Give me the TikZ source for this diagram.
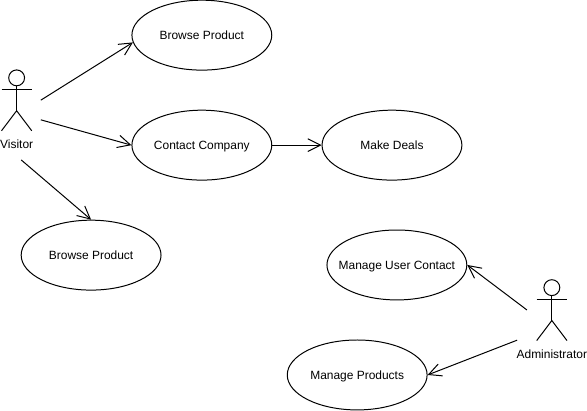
\documentclass[tikz,border=0pt]{standalone}
\usepackage{fontspec}
\setmainfont{Liberation Sans}
\usetikzlibrary{arrows.meta,shapes.geometric}
\tikzset{
  usecase/.style={draw, ellipse, line width=0.75pt, minimum width=3.7cm, minimum height=1.85cm, inner ysep=0pt, inner xsep=-0.6cm, text height=6.5pt, text depth=0pt, font=\fontsize{9pt}{11pt}\selectfont},
  actorname/.style={inner sep=0pt, font=\fontsize{9pt}{11pt}\selectfont},
  actorhead/.style={draw, circle, line width=0.75pt, minimum size=0.42cm, inner sep=0pt},
  link/.style={line width=0.75pt, -{Straight Barb[length=9.5pt,width=9.5pt,line width=0.75pt]}},
  limb/.style={line width=0.75pt}
}
\begin{document}
\begin{tikzpicture}
  \useasboundingbox (0,0) rectangle (15.53,10.87);

  % use cases
  \node[usecase] (browsetop) at (5.34,9.94) {Browse Product};
  \node[usecase] (contact) at (5.34,7.03) {Contact Company};
  \node[usecase] (deals) at (10.37,7.03) {Make Deals};
  \node[usecase] (browselow) at (2.41,4.12) {Browse Product};
  \node[usecase] (usercontact) at (10.50,3.86) {Manage User Contact};
  \node[usecase] (products) at (9.45,0.95) {Manage Products};

  % visitor actor
  \node[actorhead] (visitorhead) at (0.44,8.81) {};
  \coordinate (visitorhip) at (0.44,7.94);
  \draw[limb] (visitorhead.south) -- (visitorhip);
  \draw[limb] (0.04,8.49) -- (0.84,8.49);
  \draw[limb] (0.04,7.41) -- (visitorhip) -- (0.84,7.41);
  \node[actorname] (visitor) at (0.44,7.06) {Visitor};

  % administrator actor
  \node[actorhead] (adminhead) at (14.60,3.26) {};
  \coordinate (adminhip) at (14.60,2.39);
  \draw[limb] (adminhead.south) -- (adminhip);
  \draw[limb] (14.20,2.94) -- (15.00,2.94);
  \draw[limb] (14.20,1.86) -- (adminhip) -- (15.00,1.86);
  \node[actorname] (admin) at (14.60,1.50) {Administrator};

  % free ends of the connectors
  \coordinate (visitorA) at (1.08,8.22);
  \coordinate (visitorB) at (1.08,7.70);
  \coordinate (visitorC) at (0.56,6.64);
  \coordinate (adminA) at (13.94,2.67);
  \coordinate (adminB) at (13.68,1.87);

  % connectors
  \draw[link] (visitorA) -- (browsetop.186);
  \draw[link] (visitorB) -- (contact.west);
  \draw[link] (visitorC) -- (browselow.north);
  \draw[link] (contact.east) -- (deals.west);
  \draw[link] (adminA) -- (usercontact.east);
  \draw[link] (adminB) -- (products.east);

\end{tikzpicture}
\end{document}
